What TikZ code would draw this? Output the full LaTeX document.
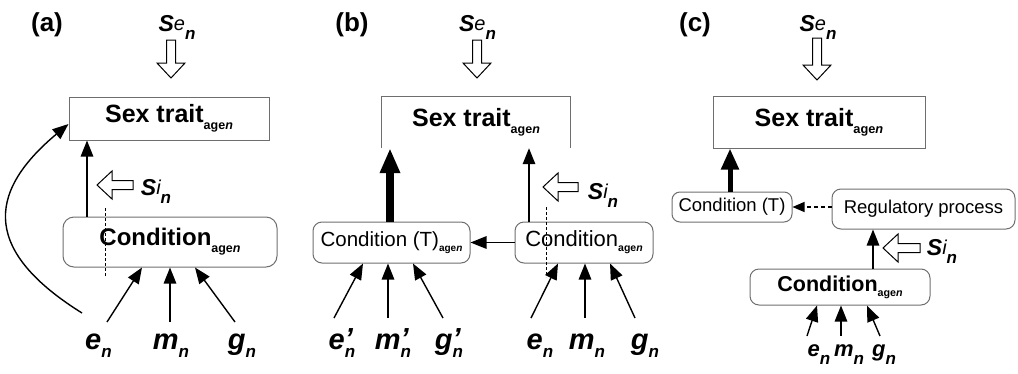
\documentclass[tikz,border=0pt]{standalone}
\usepackage{fontspec}
\setmainfont{Liberation Sans}
\usetikzlibrary{arrows.meta, positioning}
\definecolor{boxcol}{HTML}{6E6E6E}
\newcommand{\agen}[2]{\raisebox{-#2}{\fontsize{#1}{#1}\selectfont\bfseries age\textit{n}}}
\newcommand{\sig}[1]{{\bfseries\itshape S}\raisebox{0.5pt}{\fontsize{20}{20}\selectfont\itshape #1}\raisebox{-8pt}{\fontsize{17}{17}\selectfont\bfseries\itshape n}}
\newcommand{\fac}[2][]{{\bfseries\itshape #2}\rlap{\raisebox{1pt}{\bfseries\itshape #1}}\raisebox{-8pt}{\fontsize{17}{17}\selectfont\bfseries\itshape n}}
\tikzset{
  panel/.style={font=\fontsize{26}{26}\selectfont\bfseries, inner sep=0pt},
  sexbox/.style={draw=boxcol, line width=1pt, inner sep=0pt, font=\fontsize{25}{25}\selectfont\bfseries},
  sextext/.style={inner sep=0pt, font=\fontsize{25}{25}\selectfont\bfseries},
  boxline/.style={draw=boxcol, line width=1pt},
  condbox/.style={draw=boxcol, line width=1pt, rounded corners=9pt, inner sep=0pt},
  arr/.style={-{Triangle[length=16pt,width=12.5pt]}, line width=1.4pt},
  fatarr/.style={-{Triangle[length=25pt,width=19pt]}, line width=8pt},
  fatarrc/.style={-{Triangle[length=21pt,width=17pt]}, line width=5pt},
  dasharr/.style={-{Triangle[length=12pt,width=10pt]}, line width=1.2pt, dash pattern=on 4pt off 3pt},
  dashln/.style={line width=0.9pt, dash pattern=on 3pt off 2pt},
  varnode/.style={anchor=base, font=\fontsize{29}{29}\selectfont, inner sep=1pt},
  varsmall/.style={anchor=base, font=\fontsize{22}{22}\selectfont, inner sep=1pt},
  signode/.style={font=\fontsize{23}{23}\selectfont, inner sep=0pt},
  pics/hollow/.style={code={
    \draw[line width=1pt, fill=white] (0,0) -- (-15,14) -- (-15,4.5) -- (-#1,4.5)
      -- (-#1,-4.5) -- (-15,-4.5) -- (-15,-14) -- cycle;}},
}
\begin{document}
\begin{tikzpicture}[x=1pt, y=-1pt]
  \useasboundingbox (0,0) rectangle (1018,373);
  % (a)
  \node[panel] (labA) at (47,25) {(a)};
  \node[signode] (seA) at (177,27) {\sig{e}};
  \pic[rotate=-90] at (171,78) {hollow=38};
  \node[sexbox, minimum width=200, minimum height=43] (sexA) at (169,118.5) {Sex trait\agen{12.5}{7pt}};
  \node[condbox, minimum width=214, minimum height=50, rounded corners=11pt,
        font=\fontsize{24}{24}\selectfont\bfseries] (condA) at (170,242) {Condition\agen{12.5}{7pt}};
  \draw[arr] ([xshift=-83]condA.north) -- ([xshift=-83]condA.north |- sexA.south);
  \draw[dashln] (105,208) -- (105,277);
  \pic[rotate=180] at (97,185) {hollow=36};
  \node[signode] (siA) at (156,191) {\sig{i}};
  \node[varnode] (eA) at (98.5,349) {\fac{e}};
  \node[varnode] (mA) at (171,349) {\fac{m}};
  \node[varnode] (gA) at (242,349) {\fac{g}};
  \coordinate (maT) at (condA.south);
  \draw[arr] ([xshift=8.5,yshift=27]eA.base) -- ([xshift=-28]condA.south);
  \draw[arr] ([yshift=27]mA.base -| maT) -- (maT);
  \draw[arr] ([xshift=-7,yshift=27]gA.base) -- ([xshift=25]condA.south);
  \draw[arr] ([xshift=-16.5,yshift=36]eA.base) .. controls +(-96,-60) and +(-85,71) .. ([yshift=-5.5]sexA.west);
  % (b)
  \node[panel] (labB) at (352,25) {(b)};
  \node[signode] (seB) at (477.5,27) {\sig{e}};
  \pic[rotate=-90] at (477,78) {hollow=38};
  \node[sextext, minimum width=188, minimum height=51] (sexB) at (476,122.5) {Sex trait\agen{12.5}{7pt}};
  \draw[boxline] (sexB.south west) -- (sexB.north west) -- (sexB.north east) -- (sexB.south east);
  \node[condbox, minimum width=157, minimum height=41,
        font=\fontsize{20.5}{20.5}\selectfont] (condTB) at (391.5,242.5) {Condition (T)\agen{10}{5pt}};
  \node[condbox, minimum width=138, minimum height=41,
        font=\fontsize{22}{22}\selectfont] (condB) at (584,242.5) {Condition\agen{10.5}{5pt}};
  \draw[fatarr] ([xshift=-1.5]condTB.north) -- ([xshift=-1.5]condTB.north |- sexB.south);
  \draw[arr] ([xshift=-55]condB.north) -- ([xshift=-55]condB.north |- sexB.south);
  \draw[arr] (condB) -- (condTB);
  \draw[dashln] (546,207) -- (546,277);
  \pic[rotate=180] at (543,187) {hollow=35};
  \node[signode] (siB) at (603,195) {\sig{i}};
  \node[varnode] (epB) at (342,349) {\fac[']{e}};
  \node[varnode] (mpB) at (393,349) {\fac[']{m}};
  \node[varnode] (gpB) at (449,349) {\fac[']{g}};
  \node[varnode] (eB) at (540,349) {\fac{e}};
  \node[varnode] (mB) at (587,349) {\fac{m}};
  \node[varnode] (gB) at (645,349) {\fac{g}};
  \coordinate (mpT) at ([xshift=-3.5]condTB.south);
  \coordinate (mbT) at ([xshift=1]condB.south);
  \draw[arr] ([xshift=-8,yshift=31]epB.base) -- ([xshift=-28.5]condTB.south);
  \draw[arr] ([yshift=31]mpB.base -| mpT) -- (mpT);
  \draw[arr] ([xshift=-6,yshift=31]gpB.base) -- ([xshift=21.5]condTB.south);
  \draw[arr] ([xshift=-9,yshift=31]eB.base) -- ([xshift=-26]condB.south);
  \draw[arr] ([yshift=31]mB.base -| mbT) -- (mbT);
  \draw[arr] ([xshift=-10,yshift=31]gB.base) -- ([xshift=26]condB.south);
  % (c)
  \node[panel] (labC) at (695,25) {(c)};
  \node[signode] (seC) at (818,27) {\sig{e}};
  \pic[rotate=-90] at (817,80) {hollow=42};
  \node[sexbox, minimum width=212, minimum height=52] (sexC) at (819,122) {Sex trait\agen{12.8}{7pt}};
  \node[condbox, minimum width=120, minimum height=30, rounded corners=8pt,
        font=\fontsize{18.5}{18.5}\selectfont] (condTC) at (732,207) {Condition (T)};
  \node[condbox, minimum width=183, minimum height=40,
        font=\fontsize{18.5}{18.5}\selectfont] (regC) at (923.5,209) {Regulatory process};
  \node[condbox, minimum width=180, minimum height=36,
        font=\fontsize{21.5}{21.5}\selectfont\bfseries] (condC) at (840,287) {Condition\agen{10.7}{5pt}};
  \draw[fatarrc] ([xshift=-2]condTC.north) -- ([xshift=-2]condTC.north |- sexC.south);
  \draw[dasharr] (regC.west |- condTC.east) -- (condTC.east);
  \draw[arr] ([xshift=33]condC.north) -- ([xshift=33]condC.north |- regC.south);
  \pic[rotate=180] at (883,248) {hollow=37};
  \node[signode] (siC) at (942,251) {\sig{i}};
  \node[varsmall] (eC) at (819,356) {\fac{e}};
  \node[varsmall] (mC) at (849,356) {\fac{m}};
  \node[varsmall] (gC) at (884,356) {\fac{g}};
  \coordinate (mcT) at ([xshift=1]condC.south);
  \draw[arr] ([xshift=-12,yshift=20]eC.base) -- ([xshift=-23]condC.south);
  \draw[arr] ([yshift=20]mC.base -| mcT) -- (mcT);
  \draw[arr] ([xshift=-4,yshift=20]gC.base) -- ([xshift=27]condC.south);
\end{tikzpicture}
\end{document}
